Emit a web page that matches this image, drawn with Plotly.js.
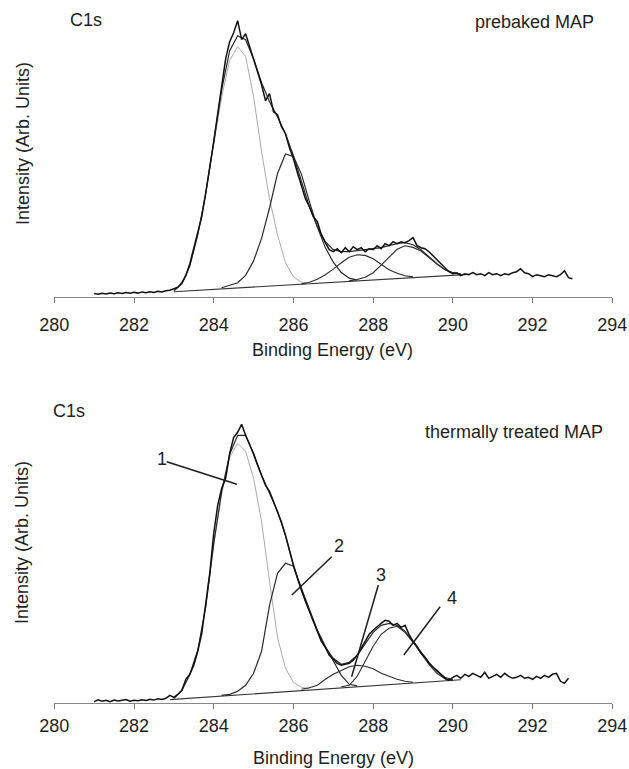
<!DOCTYPE html>
<html>
<head>
<meta charset="utf-8">
<script src="https://cdn.plot.ly/plotly-3.0.1.min.js"></script>
<style>html,body{margin:0;padding:0;background:#fff;}#chart{width:629px;height:769px;}</style>
</head>
<body>
<div id="chart"></div>
<script>
// ---------- tick labels ----------
const tickValues = [280, 282, 284, 286, 288, 290, 292, 294];
const tickLabels = ['280', '282', '284', '286', '288', '290', '292', '294'];

// ---------- raw spectra (binding energy grid, 0.1 eV) ----------
const energyGrid = [
281.0,281.1,281.2,281.3,281.4,281.5,281.6,281.7,281.8,281.9,
282.0,282.1,282.2,282.3,282.4,282.5,282.6,282.7,282.8,282.9,
283.0,283.1,283.2,283.3,283.4,283.5,283.6,283.7,283.8,283.9,
284.0,284.1,284.2,284.3,284.4,284.5,284.6,284.7,284.8,284.9,
285.0,285.1,285.2,285.3,285.4,285.5,285.6,285.7,285.8,285.9,
286.0,286.1,286.2,286.3,286.4,286.5,286.6,286.7,286.8,286.9,
287.0,287.1,287.2,287.3,287.4,287.5,287.6,287.7,287.8,287.9,
288.0,288.1,288.2,288.3,288.4,288.5,288.6,288.7,288.8,288.9,
289.0,289.1,289.2,289.3,289.4,289.5,289.6,289.7,289.8,289.9,
290.0,290.1,290.2,290.3,290.4,290.5,290.6,290.7,290.8,290.9,
291.0,291.1,291.2,291.3,291.4,291.5,291.6,291.7,291.8,291.9,
292.0,292.1,292.2,292.3,292.4,292.5,292.6,292.7,292.8,292.9,
293.0];

const prebakedRaw = [
3.3,2.5,3.5,2.8,3.8,3.0,4.0,3.2,4.2,3.5,
4.5,3.6,4.8,4.0,5.0,4.2,5.5,4.8,6.0,6.5,
8.0,9.5,14,21,33,49,63,80,104,128,
155,183,213,238,255,264,276,257,263,250,
238,224,212,196,203,185,182,170,163,149,
138,124,112,98,90,80,75,62,54,47,
45,48,44,49,45,50,47,49,45,48,
47,51,48,53,51,55,53,55,54,56,
59,51,49,48,45,41,36,32,28,25,
23,24,21,23,22,24,22,23,21,24,
22,23,21,23,22,24,25,28,24,23,
20,22,21,20,22,21,20,22,26,19,
18];

const treatedRaw = [
1.7,3.5,2.0,3.0,1.5,3.2,2.2,2.8,3.8,2.0,
3.0,2.5,3.5,2.8,4.0,3.2,4.5,3.8,5.0,8.0,
6.0,9.0,13,24,29,38,52,70,98,130,
170,198,215,225,250,266,271,279,268,259,
249,238,228,218,212,202,192,181,168,152,
138,125,113,102,92,82,71,62,56,48,
44,40,38,39,40,43,48,55,62,69,
73,77,80,83,82,78,80,76,78,69,
62,57,50,46,40,36,33,29,25,23,
26,28,25,29,27,30,28,26,31,25,
27,29,26,30,27,25,26,28,25,26,
24,27,25,28,26,29,30,22,20,25];

// ---------- fitted components: prebaked MAP ----------
const preBgX = [283.0, 290.4];
const preBgY = [5, 22.3];
const prePeak1X = [283.0,283.2,283.4,283.6,283.8,284.0,284.2,284.4,284.6,284.8,285.0,285.2,285.4,285.6,285.8,286.0,286.2,286.4];
const prePeak1Y = [5.5,11.9,29.9,61.4,103.9,151.5,200,236.4,249.9,240.3,200,145,98,62,34,20,14.5,13.1];
const prePeak2X = [284.2,284.4,284.6,284.8,285.0,285.2,285.4,285.6,285.8,286.0,286.2,286.4,286.6,286.8,287.0,287.2,287.4,287.6];
const prePeak2Y = [9,11.4,13.9,21.3,35.8,58.3,88.7,123.2,142.7,140.2,122.6,95.1,69.6,49.1,34.6,24.1,18.5,16.5];
const prePeak3X = [286.2,286.4,286.6,286.8,287.0,287.2,287.4,287.6,287.8,288.0,288.2,288.4,288.6,288.8,289.0];
const prePeak3Y = [12.6,14.5,17.5,22,27.6,34,39.4,41.9,41.3,38,32.4,26.9,23.4,20.9,19.8];
const prePeak4X = [287.4,287.6,287.8,288.0,288.2,288.4,288.6,288.8,289.0,289.2,289.4,289.6,289.8,290.0,290.2];
const prePeak4Y = [15.8,17.2,19.5,24,31.5,39.9,47.4,50.9,49.3,45.7,39.2,32.6,27.1,24,22.5];
const preEnvX = [283.0,283.2,283.4,283.6,283.8,284.0,284.2,284.4,284.6,284.8,285.0,285.2,285.4,285.6,285.8,286.0,286.2,286.4,286.6,286.8,287.0,287.2,287.4,287.6,287.8,288.0,288.2,288.4,288.6,288.8,289.0,289.2,289.4,289.6,289.8,290.0,290.2];
const preEnvY = [6,13,31,62,103,153,207,246,261,257,238,214,195,180,163,141,115,90,70,55,47,45,45,46,47,47.5,49,51,53,54,52,47,40,33,27,24,22.5];

// ---------- fitted components: thermally treated MAP ----------
const thBgX = [282.9, 290.2];
const thBgY = [3.7, 23.5];
const thPeak1X = [283.0,283.2,283.4,283.6,283.8,284.0,284.2,284.4,284.6,284.8,285.0,285.2,285.4,285.6,285.8,286.0,286.2,286.4];
const thPeak1Y = [4.5,12,28,53,96,158,210,246,260,252,225,182,122,66,35,21,16,14.5];
const thPeak2X = [284.2,284.4,284.6,284.8,285.0,285.2,285.4,285.6,285.8,286.0,286.2,286.4,286.6,286.8,287.0,287.2,287.4,287.6];
const thPeak2Y = [8,9,12,18,30,52,98,130,140,137,115,94,73,57,43,28,19,17.5];
const thPeak3X = [286.2,286.4,286.6,286.8,287.0,287.2,287.4,287.6,287.8,288.0,288.2,288.4,288.6,288.8,289.0];
const thPeak3Y = [14,15.5,18,24,29,33,36.5,38,37,34.5,30,27,24,22,21];
const thPeak4X = [287.2,287.4,287.6,287.8,288.0,288.2,288.4,288.6,288.8,289.0,289.2,289.4,289.6,289.8,290.0];
const thPeak4Y = [16.5,18,27,42,57,69,75,77,71,61,50,39,30,24.5,22.5];
const thEnvX = [283.0,283.2,283.4,283.6,283.8,284.0,284.2,284.4,284.6,284.8,285.0,285.2,285.4,285.6,285.8,286.0,286.2,286.4,286.6,286.8,287.0,287.2,287.4,287.6,287.8,288.0,288.2,288.4,288.6,288.8,289.0,289.2,289.4,289.6,289.8,290.0];
const thEnvY = [5,13,29,53,97,160,212,249,268,268,250,228,210,192,168,138,113,92,72,56,45,39,41,48,60,71,78,80,78,72,62,51,41,32,26,23.5];

// ---------- text ----------
const panelLabels = ['C1s', 'C1s'];
const sampleNames = ['prebaked MAP', 'thermally treated MAP'];
const xTitle = 'Binding Energy (eV)';
const yTitle = 'Intensity (Arb. Units)';
const peakNumbers = ['1', '2', '3', '4'];

// ---------- helpers (layout only) ----------
const W = 629, H = 769;
const px = x => x / W;
const py = y => 1 - y / H;

const DARK = '#1e1e1e';
function line(x, y, xa, ya, color, width) {
  return {type: 'scatter', mode: 'lines', x: x, y: y, xaxis: xa, yaxis: ya,
          line: {color: color, width: width}, hoverinfo: 'skip'};
}

const traces = [
  line(preBgX, preBgY, 'x', 'y', '#333', 1.1),
  line(prePeak1X, prePeak1Y, 'x', 'y', '#aaa', 1),
  line(prePeak2X, prePeak2Y, 'x', 'y', '#2a2a2a', 1.2),
  line(prePeak3X, prePeak3Y, 'x', 'y', '#2a2a2a', 1.1),
  line(prePeak4X, prePeak4Y, 'x', 'y', '#2a2a2a', 1.1),
  line(preEnvX, preEnvY, 'x', 'y', '#2a2a2a', 1.2),
  line(energyGrid, prebakedRaw, 'x', 'y', '#111', 1.5),

  line(thBgX, thBgY, 'x2', 'y2', '#333', 1.1),
  line(thPeak1X, thPeak1Y, 'x2', 'y2', '#aaa', 1),
  line(thPeak2X, thPeak2Y, 'x2', 'y2', '#2a2a2a', 1.2),
  line(thPeak3X, thPeak3Y, 'x2', 'y2', '#2a2a2a', 1.1),
  line(thPeak4X, thPeak4Y, 'x2', 'y2', '#2a2a2a', 1.1),
  line(thEnvX, thEnvY, 'x2', 'y2', '#2a2a2a', 1.2),
  line(energyGrid, treatedRaw, 'x2', 'y2', '#111', 1.5)
];

function xAxisStyle(anchor, standoff) {
  return {
    anchor: anchor,
    range: [280, 294], domain: [px(54.3), px(612.3)],
    tickmode: 'array', tickvals: tickValues, ticktext: tickLabels,
    showline: true, linecolor: '#888', linewidth: 1,
    ticks: 'outside', ticklen: 5, tickcolor: '#777', tickwidth: 1,
    showgrid: false, zeroline: false, ticklabelstandoff: standoff,
    tickfont: {size: 18, color: DARK}
  };
}

function txt(t, x, y, extra) {
  return Object.assign({text: t, xref: 'paper', yref: 'paper', x: px(x), y: py(y),
    xanchor: 'center', yanchor: 'middle', showarrow: false,
    font: {size: 18, color: DARK}}, extra || {});
}

const annotations = [
  txt(panelLabels[0], 85.5, 20),
  txt(sampleNames[0], 534.5, 22),
  txt(xTitle, 332.5, 350),
  txt(yTitle, 23, 144, {textangle: -90}),
  txt(panelLabels[1], 69, 411.5),
  txt(sampleNames[1], 514, 432),
  txt(xTitle, 333, 758),
  txt(yTitle, 22, 543, {textangle: -90}),
  txt(peakNumbers[0], 162, 459),
  txt(peakNumbers[1], 339, 545.5),
  txt(peakNumbers[2], 381, 575),
  txt(peakNumbers[3], 452, 598)
];

function seg(x0, y0, x1, y1) {
  return {type: 'line', xref: 'x2', yref: 'y2', x0: x0, y0: y0, x1: x1, y1: y1,
          line: {color: DARK, width: 1.5}};
}
const shapes = [
  seg(282.82, 241.6, 284.58, 219),
  seg(286.96, 146.6, 285.96, 108.3),
  seg(288.13, 118.3, 287.46, 26.6),
  seg(289.68, 96.6, 288.77, 48.3)
];

const layout = {
  width: W, height: H,
  margin: {l: 0, r: 0, t: 0, b: 0},
  paper_bgcolor: '#fff', plot_bgcolor: '#fff',
  showlegend: false,
  font: {family: '"Liberation Sans", Arial, sans-serif', size: 18, color: DARK},
  xaxis: xAxisStyle('y', 7),
  yaxis: {domain: [py(296.7), py(10)], range: [0, 286.7], visible: false, fixedrange: true},
  xaxis2: xAxisStyle('y2', 1),
  yaxis2: {domain: [py(703.3), py(410)], range: [0, 293.3], visible: false, fixedrange: true},
  annotations: annotations,
  shapes: shapes
};

Plotly.newPlot('chart', traces, layout, {staticPlot: true});
</script>
</body>
</html>
